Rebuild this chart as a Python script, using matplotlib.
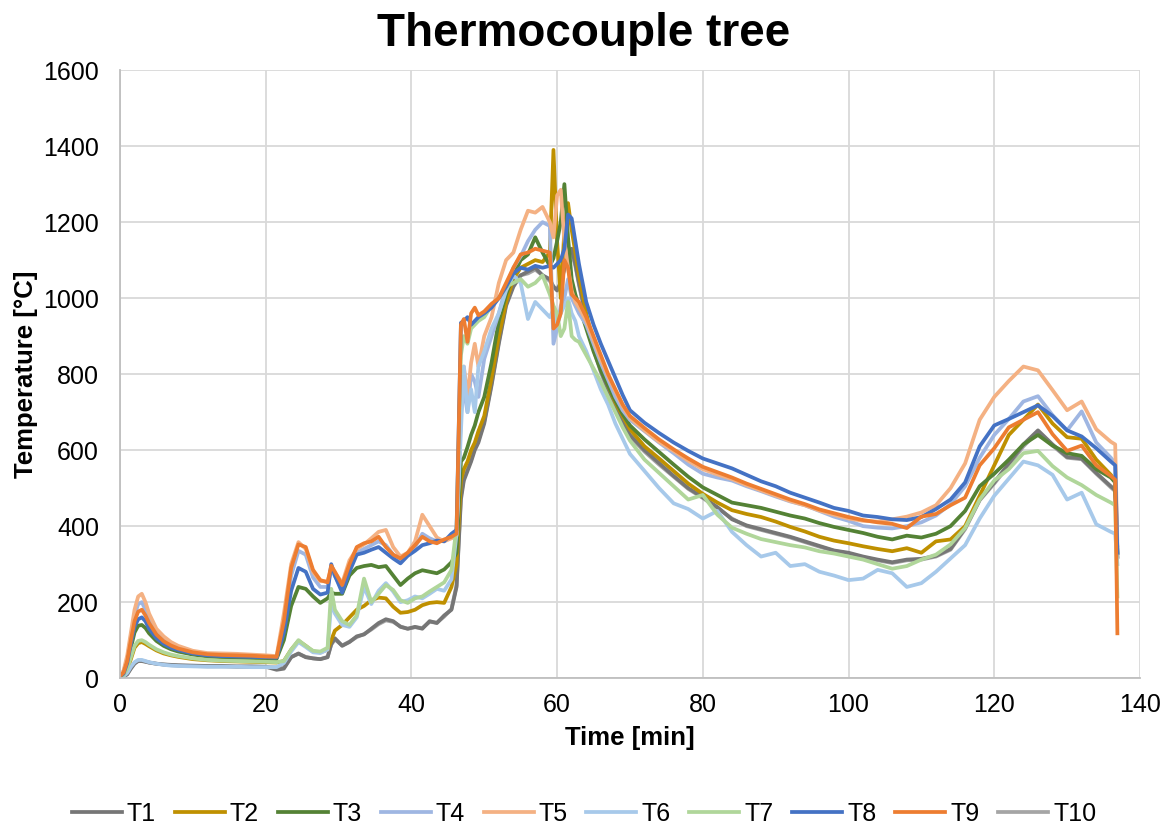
import matplotlib
matplotlib.use("Agg")
import matplotlib.pyplot as plt
import numpy as np

plt.rcParams['font.family'] = ['Liberation Sans', 'DejaVu Sans']

# time grid [min]
time = ([0, 0.5, 1, 1.5, 2, 2.5, 3, 3.5, 4, 5, 6, 7, 8, 10, 12, 14, 16, 18, 20, 21.5]
        + [22.5, 23.5, 24.5, 25.5, 26.5, 27.5, 28.5, 29, 29.5, 30.5, 31.5, 32.5, 33.5,
           34.5, 35.5, 36.5, 37.5, 38.5, 39.5, 40.5, 41.5, 42.5, 43.5, 44.5, 45.5, 46.2]
        + [46.8, 47.2, 47.7, 48.2, 48.7, 49.2, 50, 51, 52, 53, 54, 55, 56, 57, 58, 59,
           59.5, 60, 60.5, 61, 61.5, 62, 62.5, 63, 64, 65, 66, 67, 68, 69, 70]
        + list(range(72, 137, 2))
        + [136.6, 136.9])

T1 = ([2, 4, 10, 25, 38, 45, 45, 43, 41, 38, 36, 35, 34, 33, 32, 32, 31, 31, 30, 22]
      + [25, 55, 65, 55, 52, 50, 55, 90, 105, 85, 95, 110, 115, 130, 145, 155, 150, 135, 130, 135, 130, 150, 145, 165, 180, 240]
      + [470, 520, 545, 570, 600, 620, 670, 770, 880, 980, 1030, 1060, 1070, 1080, 1060, 1050, 1030, 1020, 1040, 1080, 1110, 1130, 1090, 1040, 950, 870, 810, 760, 715, 675, 640]
      + [600, 566, 532, 500, 476, 450, 418, 402, 392, 382, 372, 360, 348, 336, 330, 320, 312, 305, 312, 314, 322, 340, 395, 470, 515, 565, 615, 652, 615, 582, 578, 540, 505]
      + [495, 320])
T2 = ([3, 7, 22, 50, 80, 92, 95, 90, 84, 73, 65, 60, 56, 50, 47, 45, 44, 43, 42, 41]
      + [45, 75, 98, 85, 70, 68, 75, 100, 125, 140, 160, 180, 190, 205, 212, 210, 188, 172, 174, 180, 192, 198, 200, 198, 240, 300]
      + [520, 550, 570, 600, 620, 650, 690, 790, 900, 990, 1050, 1080, 1090, 1100, 1095, 1120, 1390, 1150, 1000, 1180, 1250, 1180, 1120, 1060, 960, 880, 820, 770, 725, 690, 655]
      + [610, 578, 545, 512, 485, 462, 442, 432, 424, 412, 398, 386, 372, 362, 355, 347, 340, 334, 342, 330, 360, 365, 400, 480, 560, 640, 680, 720, 670, 634, 630, 575, 535]
      + [520, 330])
T3 = ([4, 10, 35, 80, 120, 138, 140, 132, 118, 98, 85, 76, 70, 62, 57, 55, 54, 53, 52, 51]
      + [100, 190, 240, 235, 215, 198, 210, 225, 222, 222, 270, 290, 295, 298, 292, 295, 270, 245, 262, 276, 284, 280, 276, 286, 305, 330]
      + [570, 580, 608, 640, 665, 700, 740, 830, 940, 1010, 1060, 1100, 1115, 1160, 1120, 1085, 1105, 1150, 1200, 1300, 1160, 1050, 1010, 980, 920, 860, 810, 770, 730, 695, 665]
      + [628, 595, 562, 530, 502, 482, 462, 455, 448, 438, 428, 420, 408, 398, 390, 382, 372, 365, 375, 370, 380, 400, 440, 505, 538, 575, 615, 640, 612, 592, 585, 550, 528]
      + [515, 330])
T4 = ([5, 18, 50, 110, 165, 195, 200, 180, 155, 120, 100, 88, 80, 70, 64, 62, 61, 60, 58, 56]
      + [140, 270, 335, 325, 265, 240, 240, 290, 268, 235, 290, 330, 340, 350, 360, 350, 325, 312, 328, 345, 380, 368, 360, 362, 370, 380]
      + [700, 760, 700, 800, 780, 740, 840, 900, 960, 1030, 1080, 1110, 1150, 1180, 1200, 1190, 880, 920, 980, 1000, 1050, 1000, 980, 960, 930, 880, 830, 785, 740, 705, 680]
      + [650, 620, 592, 562, 538, 528, 520, 505, 492, 478, 465, 455, 440, 425, 414, 400, 396, 394, 400, 410, 428, 458, 505, 580, 640, 682, 728, 742, 692, 652, 702, 620, 580]
      + [565, 330])
T5 = ([5, 20, 60, 120, 180, 215, 222, 200, 170, 130, 110, 95, 85, 72, 66, 65, 64, 62, 60, 58]
      + [170, 300, 358, 340, 280, 255, 255, 290, 278, 250, 310, 340, 352, 368, 385, 390, 345, 320, 330, 360, 430, 400, 370, 360, 368, 375]
      + [690, 820, 740, 830, 880, 820, 900, 950, 1040, 1100, 1120, 1180, 1230, 1225, 1240, 1200, 1160, 1270, 1285, 1150, 1080, 1020, 990, 975, 940, 890, 840, 795, 755, 715, 685]
      + [652, 622, 598, 572, 550, 536, 524, 508, 494, 480, 466, 455, 441, 430, 420, 414, 412, 418, 425, 436, 455, 500, 565, 680, 740, 782, 820, 810, 758, 705, 728, 655, 622]
      + [615, 350])
T6 = ([2, 5, 14, 30, 42, 48, 48, 45, 42, 38, 35, 33, 32, 31, 30, 30, 30, 29, 29, 29]
      + [40, 70, 95, 82, 68, 66, 75, 200, 170, 140, 135, 160, 240, 195, 230, 250, 228, 200, 205, 215, 210, 222, 235, 230, 260, 380]
      + [650, 820, 700, 760, 700, 820, 860, 920, 960, 1020, 1060, 1040, 945, 990, 970, 950, 970, 930, 960, 980, 1000, 960, 940, 900, 860, 810, 760, 720, 670, 630, 590]
      + [545, 500, 460, 445, 420, 440, 385, 350, 320, 330, 295, 300, 280, 270, 258, 262, 285, 276, 240, 250, 280, 315, 350, 420, 480, 525, 570, 560, 535, 470, 488, 405, 385]
      + [380, 300])
T7 = ([3, 8, 25, 55, 85, 98, 100, 95, 88, 76, 68, 62, 58, 52, 48, 46, 45, 44, 43, 42]
      + [45, 75, 100, 85, 72, 70, 80, 235, 180, 150, 140, 165, 262, 200, 222, 245, 232, 205, 198, 210, 215, 228, 240, 252, 285, 400]
      + [850, 900, 880, 920, 930, 940, 950, 980, 1000, 1030, 1040, 1050, 1030, 1040, 1060, 1010, 980, 960, 900, 920, 990, 900, 890, 885, 850, 815, 780, 740, 700, 660, 625]
      + [575, 540, 505, 470, 482, 430, 396, 380, 366, 358, 350, 344, 334, 328, 320, 312, 300, 288, 295, 312, 325, 352, 395, 470, 520, 550, 592, 598, 558, 528, 508, 482, 462]
      + [455, 215])
T8 = ([4, 12, 40, 90, 135, 155, 160, 150, 130, 105, 90, 80, 74, 65, 60, 58, 57, 56, 55, 54]
      + [120, 230, 290, 280, 235, 220, 225, 300, 270, 225, 280, 325, 330, 338, 345, 330, 315, 302, 322, 335, 350, 355, 362, 360, 380, 390]
      + [935, 940, 950, 930, 940, 950, 960, 975, 1000, 1030, 1065, 1080, 1075, 1085, 1080, 1085, 1080, 1090, 1100, 1130, 1220, 1210, 1150, 1090, 990, 930, 880, 835, 790, 745, 705]
      + [672, 645, 620, 598, 578, 565, 552, 535, 518, 505, 488, 475, 462, 448, 440, 428, 424, 418, 416, 424, 445, 470, 515, 610, 665, 682, 700, 718, 690, 652, 636, 605, 570]
      + [560, 330])
T9 = ([5, 15, 45, 100, 150, 175, 180, 165, 145, 115, 97, 86, 78, 68, 63, 61, 60, 59, 57, 56]
      + [150, 290, 352, 345, 285, 258, 252, 296, 280, 245, 300, 345, 355, 360, 372, 345, 325, 315, 330, 350, 372, 360, 355, 365, 372, 380]
      + [930, 945, 885, 960, 975, 955, 965, 985, 1000, 1040, 1080, 1115, 1120, 1130, 1125, 1120, 920, 930, 960, 1100, 1080, 1010, 1000, 990, 950, 900, 850, 800, 760, 720, 690]
      + [658, 628, 602, 578, 556, 542, 528, 512, 498, 484, 470, 458, 444, 434, 424, 416, 410, 406, 395, 425, 432, 455, 475, 560, 605, 660, 680, 700, 642, 598, 612, 560, 532]
      + [522, 118])
T10 = ([2, 4, 11, 27, 40, 46, 46, 44, 41, 38, 36, 34, 33, 32, 31, 31, 30, 30, 30, 28]
       + [28, 56, 64, 56, 52, 50, 56, 88, 102, 86, 96, 108, 116, 128, 142, 152, 148, 136, 130, 134, 132, 148, 146, 162, 182, 245]
       + [480, 525, 550, 575, 605, 625, 675, 775, 885, 985, 1035, 1060, 1065, 1075, 1060, 1045, 1030, 1025, 1040, 1075, 1105, 1120, 1085, 1035, 945, 865, 805, 755, 710, 672, 636]
       + [596, 562, 530, 498, 474, 448, 420, 400, 390, 380, 370, 358, 346, 335, 328, 318, 310, 303, 310, 312, 320, 338, 392, 468, 512, 560, 610, 648, 612, 580, 576, 538, 502]
       + [492, 318])

names = ['T1', 'T2', 'T3', 'T4', 'T5', 'T6', 'T7', 'T8', 'T9', 'T10']
series = [T1, T2, T3, T4, T5, T6, T7, T8, T9, T10]
colors = ['#767676', '#BF9000', '#548235', '#9FB6E2', '#F4B183',
          '#A7C9EA', '#B0D69A', '#4472C4', '#ED7D31', '#A5A5A5']

fig = plt.figure(figsize=(11.68, 8.25), dpi=100)
ax = fig.add_axes([0.1027, 0.178, 0.8733, 0.737])

for name, vals, c in zip(names, series, colors):
    z = 1.5 if name == 'T10' else 2
    ax.plot(time, vals, color=c, lw=2.7, label=name, zorder=z, solid_joinstyle='round')

ax.set_xlim(0, 140)
ax.set_ylim(0, 1600)
ax.set_xticks(np.arange(0, 141, 20))
ax.set_yticks(np.arange(0, 1601, 200))
ax.grid(True, color='#D9D9D9', lw=1.3, zorder=0)
ax.set_axisbelow(True)
ax.tick_params(length=0, labelsize=18)
ax.tick_params(axis='x', pad=11)
ax.tick_params(axis='y', pad=15)
for s in ['top', 'right']:
    ax.spines[s].set_visible(False)
for s in ['left', 'bottom']:
    ax.spines[s].set_color('#BFBFBF')
    ax.spines[s].set_linewidth(1.3)

ax.set_xlabel('Time [min]', fontsize=18.5, fontweight='bold', labelpad=6)
ax.set_ylabel('Temperature [°C]', fontsize=18.5, fontweight='bold', labelpad=4)
fig.suptitle('Thermocouple tree', fontsize=33, fontweight='bold', y=0.985)

fig.legend(loc='lower center', bbox_to_anchor=(0.5, -0.028), ncol=10, frameon=False,
           fontsize=18, handlelength=2.0, columnspacing=0.75, handletextpad=0.2)

fig.savefig('out.png', dpi=100)
